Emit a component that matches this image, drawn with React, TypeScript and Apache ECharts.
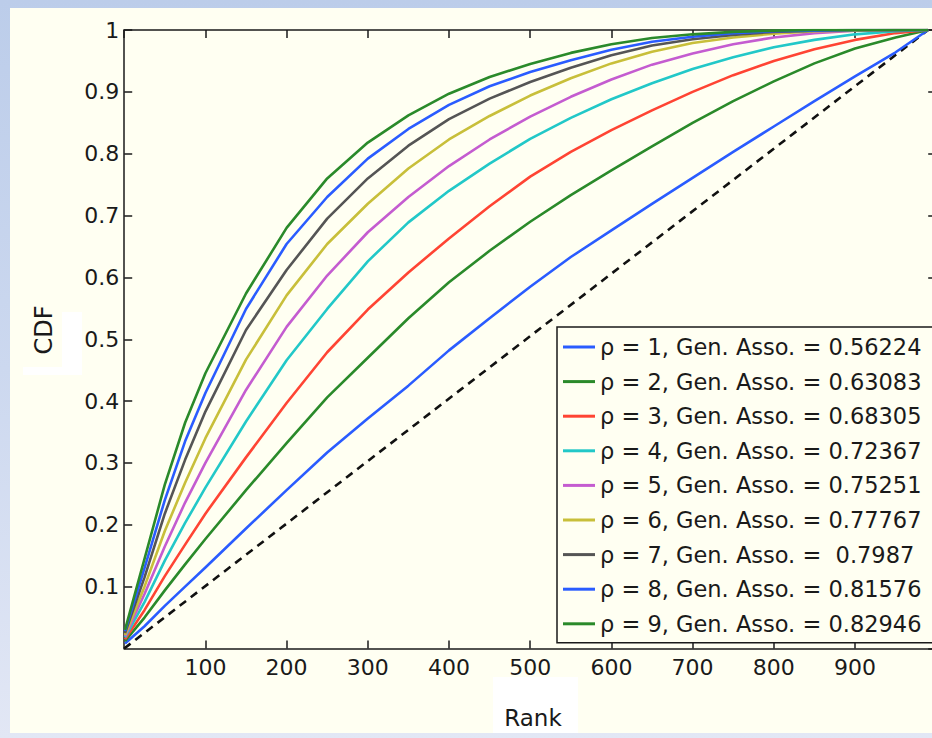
import { useEffect, useRef } from "react";
import * as echarts from "echarts";

// Rank positions at which each CDF curve is sampled
const ranks = [1, 25, 50, 75, 100, 150, 200, 250, 300, 350, 400, 450, 500, 550, 600, 650, 700, 750, 800, 850, 900, 950, 990];

const cdfRho1 = [0.008, 0.036, 0.069, 0.1, 0.131, 0.194, 0.256, 0.317, 0.372, 0.425, 0.482, 0.534, 0.585, 0.633, 0.676, 0.719, 0.761, 0.803, 0.844, 0.885, 0.925, 0.964, 1];
const cdfRho2 = [0.012, 0.05, 0.094, 0.136, 0.177, 0.256, 0.332, 0.406, 0.47, 0.534, 0.592, 0.643, 0.69, 0.733, 0.773, 0.812, 0.85, 0.885, 0.917, 0.946, 0.97, 0.988, 1];
const cdfRho3 = [0.015, 0.062, 0.117, 0.168, 0.218, 0.309, 0.397, 0.479, 0.548, 0.608, 0.663, 0.715, 0.763, 0.803, 0.838, 0.87, 0.9, 0.927, 0.95, 0.969, 0.984, 0.995, 1];
const cdfRho4 = [0.018, 0.075, 0.142, 0.203, 0.26, 0.367, 0.466, 0.549, 0.626, 0.689, 0.74, 0.784, 0.824, 0.858, 0.888, 0.914, 0.937, 0.956, 0.972, 0.984, 0.993, 0.998, 1];
const cdfRho5 = [0.02, 0.088, 0.165, 0.236, 0.3, 0.418, 0.52, 0.603, 0.673, 0.73, 0.78, 0.823, 0.86, 0.892, 0.92, 0.944, 0.962, 0.977, 0.988, 0.995, 0.999, 1, 1];
const cdfRho6 = [0.022, 0.1, 0.19, 0.268, 0.34, 0.467, 0.571, 0.654, 0.719, 0.776, 0.823, 0.861, 0.894, 0.922, 0.946, 0.965, 0.979, 0.988, 0.994, 0.998, 0.999, 1, 1];
const cdfRho7 = [0.025, 0.115, 0.218, 0.305, 0.383, 0.515, 0.612, 0.695, 0.76, 0.813, 0.856, 0.889, 0.916, 0.939, 0.959, 0.975, 0.985, 0.992, 0.997, 0.999, 1, 1, 1];
const cdfRho8 = [0.028, 0.13, 0.24, 0.335, 0.413, 0.549, 0.654, 0.73, 0.792, 0.84, 0.879, 0.909, 0.932, 0.951, 0.968, 0.981, 0.989, 0.995, 0.998, 0.999, 1, 1, 1];
const cdfRho9 = [0.03, 0.145, 0.265, 0.365, 0.445, 0.574, 0.68, 0.76, 0.818, 0.862, 0.897, 0.924, 0.945, 0.963, 0.977, 0.987, 0.993, 0.997, 0.999, 1, 1, 1, 1];

// Uniform reference (dashed diagonal)
const diagRanks = [0, 990];
const diagValues = [0, 1];

const legendLabels = [
  "ρ = 1, Gen. Asso. = 0.56224",
  "ρ = 2, Gen. Asso. = 0.63083",
  "ρ = 3, Gen. Asso. = 0.68305",
  "ρ = 4, Gen. Asso. = 0.72367",
  "ρ = 5, Gen. Asso. = 0.75251",
  "ρ = 6, Gen. Asso. = 0.77767",
  "ρ = 7, Gen. Asso. =\u00a0 0.7987",
  "ρ = 8, Gen. Asso. = 0.81576",
  "ρ = 9, Gen. Asso. = 0.82946",
];

const lineColors = ["#2a5cff", "#2a8a2a", "#ff4433", "#22c8c8", "#c45cd0", "#c8bf3a", "#555555", "#2a5cff", "#2a8a2a"];

const FONT = "DejaVu Sans";
const INK = "#1a1a1a";

export default function App() {
  const ref = useRef<HTMLDivElement>(null);

  useEffect(() => {
    if (!ref.current) return;
    const chart = echarts.init(ref.current, null, { renderer: "svg" });
    const curves = [cdfRho1, cdfRho2, cdfRho3, cdfRho4, cdfRho5, cdfRho6, cdfRho7, cdfRho8, cdfRho9];

    const series: any[] = [
      {
        name: "uniform",
        type: "line",
        data: diagRanks.map((r, j) => [r, diagValues[j]]),
        symbol: "none",
        silent: true,
        lineStyle: { color: "#111", width: 2.6, type: [8, 6] },
        z: 2,
      },
      ...curves.map((vals, i) => ({
        name: legendLabels[i],
        type: "line",
        data: ranks.map((r, j) => [r, vals[j]]),
        smooth: false,
        symbol: "none",
        showSymbol: false,
        lineStyle: { color: lineColors[i], width: 2.6, join: "round" },
        itemStyle: { color: lineColors[i] },
        z: 3 + i,
      })),
    ];

    const axisLine = { show: true, onZero: false, lineStyle: { color: INK, width: 1.5 } };
    const axisTick = { show: true, inside: true, length: 8, lineStyle: { color: INK, width: 1.5 } };

    chart.setOption({
      animation: false,
      backgroundColor: "#fffff2",
      grid: { left: 114.2, top: 22, width: 812, height: 618.5, outerBoundsMode: "none" },
      xAxis: [
        {
          type: "value",
          min: 0,
          max: 1000,
          interval: 100,
          position: "bottom",
          axisLine,
          axisTick,
          splitLine: { show: false },
          axisLabel: {
            showMinLabel: false,
            showMaxLabel: false,
            margin: 8,
            fontSize: 22,
            fontFamily: FONT,
            color: INK,
          },
        },
        {
          type: "value",
          min: 0,
          max: 1000,
          interval: 100,
          position: "top",
          axisLine,
          axisTick,
          splitLine: { show: false },
          axisLabel: { show: false },
        },
      ],
      yAxis: [
        {
          type: "value",
          min: 0,
          max: 1,
          interval: 0.1,
          position: "left",
          axisLine,
          axisTick,
          splitLine: { show: false },
          axisLabel: {
            showMinLabel: false,
            margin: 5,
            fontSize: 22,
            fontFamily: FONT,
            color: INK,
          },
        },
        {
          type: "value",
          min: 0,
          max: 1,
          interval: 0.1,
          position: "right",
          axisLine,
          axisTick,
          splitLine: { show: false },
          axisLabel: { show: false },
        },
      ],
      legend: {
        orient: "vertical",
        left: 547,
        top: 319,
        data: legendLabels,
        icon: "rect",
        itemWidth: 32,
        itemHeight: 3,
        itemGap: 10.6,
        padding: [8, 40, 7, 6],
        backgroundColor: "#fffff2",
        borderColor: INK,
        borderWidth: 1.5,
        selectedMode: false,
        textStyle: { fontSize: 22.5, fontFamily: FONT, color: INK, lineHeight: 24 },
        z: 10,
      },
      graphic: [
        { type: "rect", shape: { x: 483, y: 669, width: 85, height: 56 }, style: { fill: "#ffffff" }, silent: true, z: 0 },
        { type: "rect", shape: { x: 52, y: 304, width: 20, height: 63 }, style: { fill: "#ffffff" }, silent: true, z: 0 },
        { type: "rect", shape: { x: 13, y: 359, width: 40, height: 8 }, style: { fill: "#ffffff" }, silent: true, z: 0 },
        {
          type: "text",
          x: 523,
          y: 710,
          style: { text: "Rank", fontSize: 23, fontFamily: FONT, fill: INK, align: "center", verticalAlign: "middle" },
          z: 1,
        },
        {
          type: "text",
          x: 34,
          y: 322,
          rotation: Math.PI / 2,
          style: { text: "CDF", fontSize: 24, fontFamily: FONT, fill: INK, align: "center", verticalAlign: "middle" },
          z: 1,
        },
      ],
      series,
    });

    return () => chart.dispose();
  }, []);

  return (
    <div
      style={{
        position: "fixed",
        left: 0,
        top: 0,
        width: 932,
        height: 738,
        overflow: "hidden",
        background: "linear-gradient(180deg, #bccdea 0%, #ccd8ef 50%, #e2e7f5 100%)",
      }}
    >
      <div ref={ref} style={{ position: "absolute", left: 10, top: 8, width: 922, height: 725 }} />
    </div>
  );
}
